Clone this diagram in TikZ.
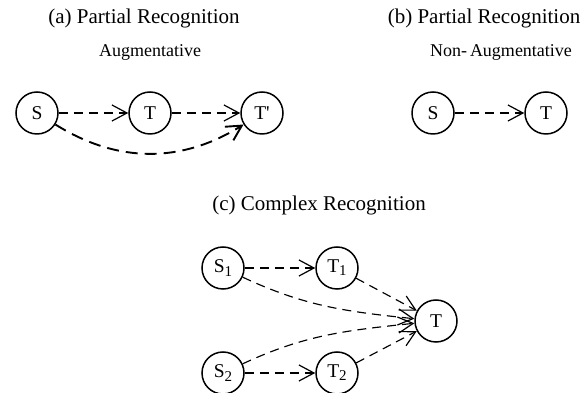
\documentclass[tikz,border=0pt]{standalone}
\usepackage{fontspec}
\setmainfont{Liberation Serif}
\usetikzlibrary{arrows.meta}
\begin{document}
\begin{tikzpicture}[x=1pt,y=1pt,
  state/.style={circle,draw,line width=1.5pt,minimum size=42pt,inner sep=0pt,font=\fontsize{19.5}{22}\selectfont},
  title/.style={font=\fontsize{21}{24}\selectfont},
  subtitle/.style={font=\fontsize{18}{21}\selectfont},
  darrow/.style={line width=1.15pt,dash pattern=on 9pt off 6pt,-{Straight Barb[length=15pt,width=16pt,line width=1.2pt]}},
  carrow/.style={line width=1.9pt,dash pattern=on 12pt off 7pt,-{Straight Barb[length=15pt,width=16pt,line width=1.9pt]}}
]
\useasboundingbox (0,0) rectangle (583,393);
% (a)
\node[title] (ta) at (144,375) {(a) Partial Recognition};
\node[subtitle] (sa) at (150,341) {Augmentative};
\node[state] (Sa) at (37,280) {S};
\node[state] (Ta) at (150,280) {T};
\node[state] (Tp) at (262,280) {T\textquotesingle};
\draw[darrow] (Sa) -- (Ta);
\draw[darrow] (Ta) -- (Tp);
\draw[carrow] (Sa) to[out=-32,in=-148] (Tp);
% (b)
\node[title] (tb) at (484,375) {(b) Partial Recognition};
\node[subtitle] (sb) at (501,341) {Non-\,Augmentative};
\node[state] (Sb) at (433,280) {S};
\node[state] (Tb) at (546,280) {T};
\draw[darrow] (Sb) -- (Tb);
% (c)
\node[title] (tc) at (319,188) {(c) Complex Recognition};
\node[state] (S1) at (223,125) {S\raisebox{-0.35ex}{\fontsize{15}{17}\selectfont 1}};
\node[state] (T1) at (337,125) {T\raisebox{-0.35ex}{\fontsize{15}{17}\selectfont 1}};
\node[state] (T) at (436,72) {T};
\node[state] (S2) at (223,20) {S\raisebox{-0.35ex}{\fontsize{15}{17}\selectfont 2}};
\node[state] (T2) at (337,20) {T\raisebox{-0.35ex}{\fontsize{15}{17}\selectfont 2}};
\draw[darrow] (S1) -- (T1);
\draw[darrow] (T1) -- (T);
\draw[darrow] (S1) to[out=-25,in=174] (T);
\draw[darrow] (S2) to[out=25,in=-174] (T);
\draw[darrow] (S2) -- (T2);
\draw[darrow] (T2) -- (T);
\end{tikzpicture}
\end{document}
